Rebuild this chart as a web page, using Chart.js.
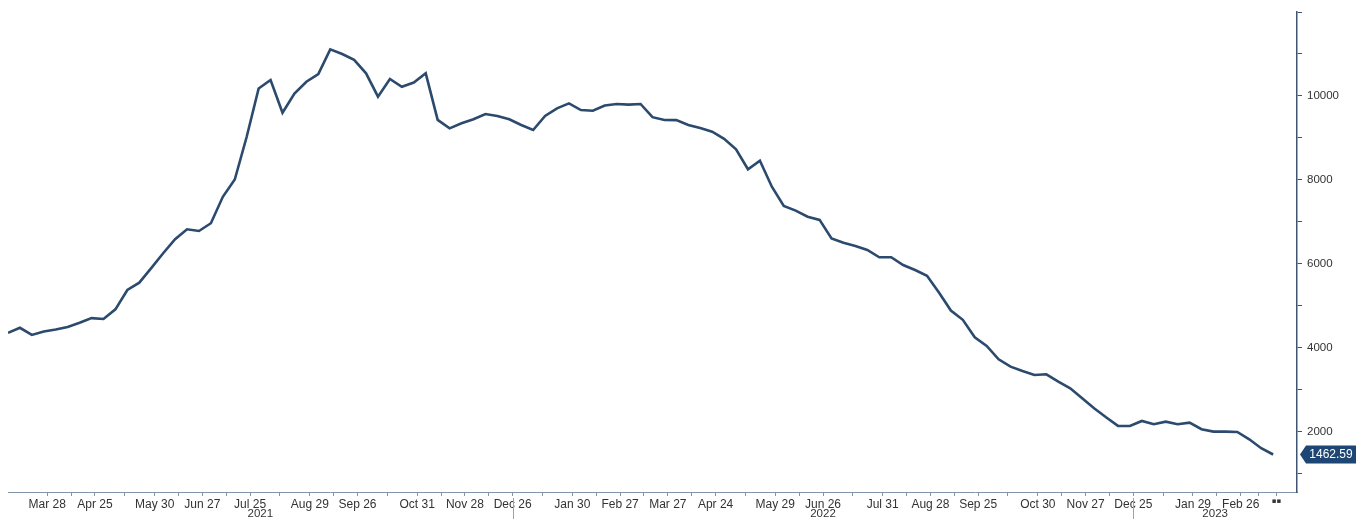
<!DOCTYPE html>
<html><head><meta charset="utf-8">
<script src="https://cdn.jsdelivr.net/npm/chart.js@4.4.0/dist/chart.umd.min.js"></script>
<style>html,body{margin:0;padding:0;background:#fff;}#wrap{width:1365px;height:519px;position:relative;}</style>
</head><body><div id="wrap"><canvas id="c"></canvas></div>
<script>
// ---- data ----
const startDate = '2021-03-05';           // first weekly observation
const values = [
  4360, 4480, 4310, 4390, 4440, 4500, 4600, 4710, 4690, 4920,
  5380, 5555, 5900, 6255, 6590, 6825, 6785, 6970, 7600, 8010,
  9030, 10180, 10380, 9600, 10060, 10340, 10520, 11110, 11000, 10860,
  10540, 9985, 10405, 10220, 10320, 10540, 9430, 9230, 9350, 9445,
  9570, 9525, 9445, 9310, 9190, 9525, 9705, 9825, 9665, 9650,
  9775, 9810, 9795, 9810, 9495, 9430, 9425, 9310, 9240, 9150,
  8980, 8730, 8255, 8460, 7840, 7380, 7270, 7125, 7050, 6610,
  6505, 6430, 6335, 6160, 6160, 5975, 5855, 5720, 5320, 4890,
  4670, 4255, 4050, 3730, 3555, 3450, 3357, 3373, 3200, 3040,
  2800, 2565, 2350, 2145, 2143, 2262, 2183, 2245, 2183, 2222,
  2064, 2008, 2008, 2000, 1825, 1612, 1462.59
];
const tickDates = [
  '2021-03-28','2021-04-25','2021-05-30','2021-06-27','2021-07-25','2021-08-29','2021-09-26',
  '2021-10-31','2021-11-28','2021-12-26','2022-01-30','2022-02-27','2022-03-27','2022-04-24',
  '2022-05-29','2022-06-26','2022-07-31','2022-08-28','2022-09-25','2022-10-30','2022-11-27',
  '2022-12-25','2023-01-29','2023-02-26','2023-03-19'
];
const tickLabels = [
  'Mar 28','Apr 25','May 30','Jun 27','Jul 25','Aug 29','Sep 26','Oct 31','Nov 28','Dec 26',
  'Jan 30','Feb 27','Mar 27','Apr 24','May 29','Jun 26','Jul 31','Aug 28','Sep 25','Oct 30',
  'Nov 27','Dec 25','Jan 29','Feb 26','▪▪'
];
const yearLabels = ['2021', '2022', '2023'];
const yearBreaks = ['2021-12-26', '2022-12-25'];
const yTicks = [1000,2000,3000,4000,5000,6000,7000,8000,9000,10000,11000,12000];
const yLabelled = [2000,4000,6000,8000,10000];
const lastLabel = '1462.59';

// ---- helpers ----
const dayOf = d => (Date.parse(d) - Date.parse(startDate)) / 86400000;
const points = values.map((v, i) => ({ x: i * 7, y: v }));
const tickPos = [];
const tickText = [];
tickDates.forEach((d, i) => {
  const p = dayOf(d);
  tickPos.push(p); tickText.push(tickLabels[i]);
  if (i < tickDates.length - 1) {
    tickPos.push((p + dayOf(tickDates[i + 1])) / 2); tickText.push('');
  }
});

const NAVY = '#2b4a6e';
const FONT = '"Liberation Sans", Arial, sans-serif';
const extras = {
  id: 'extras',
  afterDraw(chart) {
    const { ctx, chartArea, scales } = chart;
    const xs = scales.x, ys = scales.y;
    ctx.save();
    // year separators and labels
    const bounds = [chartArea.left, ...yearBreaks.map(d => xs.getPixelForValue(dayOf(d))), chartArea.right];
    ctx.strokeStyle = '#9aa5b1'; ctx.lineWidth = 1;
    yearBreaks.forEach(d => {
      const x = Math.round(xs.getPixelForValue(dayOf(d))) + 0.5;
      ctx.beginPath(); ctx.moveTo(x, chartArea.bottom + 6); ctx.lineTo(x, 519); ctx.stroke();
    });
    ctx.fillStyle = '#333'; ctx.font = '11.5px ' + FONT;
    ctx.textAlign = 'center'; ctx.textBaseline = 'middle';
    yearLabels.forEach((t, i) => ctx.fillText(t, (bounds[i] + bounds[i + 1]) / 2, 514));
    // last value tag
    const y = ys.getPixelForValue(values[values.length - 1]);
    const x0 = chartArea.right + 3;
    ctx.fillStyle = '#1d4674';
    ctx.beginPath();
    ctx.moveTo(x0, y);
    ctx.lineTo(x0 + 6, y - 9);
    ctx.lineTo(x0 + 56, y - 9);
    ctx.lineTo(x0 + 56, y + 9);
    ctx.lineTo(x0 + 6, y + 9);
    ctx.closePath(); ctx.fill();
    ctx.fillStyle = '#fff'; ctx.font = '12px ' + FONT;
    ctx.textAlign = 'center';
    ctx.fillText(lastLabel, x0 + 31, y + 0.5);
    ctx.restore();
  }
};

new Chart(document.getElementById('c'), {
  type: 'line',
  data: { datasets: [{ data: points, borderColor: NAVY, borderWidth: 2.6, pointRadius: 0, tension: 0, fill: false }] },
  options: {
    responsive: true, maintainAspectRatio: false, animation: false,
    layout: { padding: { left: 8, top: 12, right: 0, bottom: 0 } },
    plugins: { legend: { display: false }, tooltip: { enabled: false } },
    scales: {
      x: {
        type: 'linear', min: 0, max: 756,
        afterBuildTicks: ax => { ax.ticks = tickPos.map(v => ({ value: v })); },
        afterFit: s => { s.height = 27; },
        ticks: {
          autoSkip: false, maxRotation: 0, minRotation: 0, padding: 1,
          color: '#333',
          font: c => (c.index === tickPos.length - 1 ? { family: 'DejaVu Sans', size: 7, weight: 'bold' } : { family: FONT, size: 12 }),
          callback: (v, i) => tickText[i]
        },
        grid: { drawOnChartArea: false, drawTicks: true, tickLength: 4, color: '#8094aa' },
        border: { color: '#8094aa', width: 1 }
      },
      y: {
        position: 'right', min: 570, max: 12000,
        afterBuildTicks: ax => { ax.ticks = yTicks.map(v => ({ value: v })); },
        afterFit: s => { s.width = 68; },
        ticks: {
          autoSkip: false, padding: 5, color: '#333',
          font: { family: FONT, size: 11.5 },
          callback: v => (yLabelled.includes(v) ? String(v) : '')
        },
        grid: { drawOnChartArea: false, drawTicks: true, tickLength: 5, color: '#3d5572' },
        border: { color: '#3d5572', width: 1.5 }
      }
    }
  },
  plugins: [extras]
});
</script>
</body></html>
